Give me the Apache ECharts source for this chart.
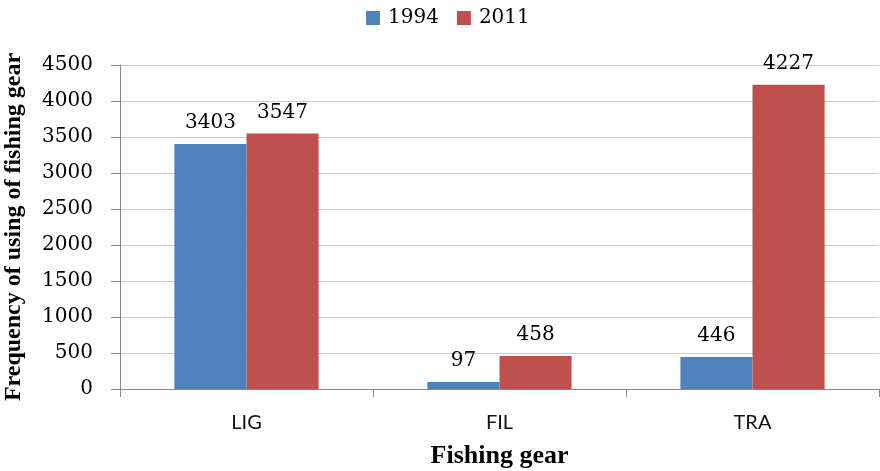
<!DOCTYPE html>
<html>
<head>
<meta charset="utf-8">
<script src="https://cdn.jsdelivr.net/npm/echarts@6/dist/echarts.min.js"></script>
<style>
  html, body { margin: 0; padding: 0; background: #fff; }
  #chart { width: 880px; height: 471px; }
</style>
</head>
<body>
<div id="chart"></div>
<script>
// Fishing gear usage counts by survey year
const categories = ['LIG', 'FIL', 'TRA'];
const values1994 = [3403, 97, 446];
const values2011 = [3547, 458, 4227];
const yTicks = [0, 500, 1000, 1500, 2000, 2500, 3000, 3500, 4000, 4500];

const numFont = '"DejaVu Serif", "Liberation Serif", serif';
const titleFont = '"Liberation Serif", "DejaVu Serif", serif';
const catFont = 'Lato, "Open Sans", sans-serif';

const chart = echarts.init(document.getElementById('chart'));

const labelStyle = {
  show: true,
  position: 'top',
  distance: 11,
  fontFamily: numFont,
  fontSize: 20,
  color: '#000'
};

chart.setOption({
  animation: false,
  backgroundColor: '#fff',
  legend: {
    top: 3,
    left: 361,
    icon: 'rect',
    itemWidth: 14,
    itemHeight: 14,
    itemGap: 18,
    textStyle: { fontFamily: numFont, fontSize: 20, color: '#000', padding: [0, 0, 0, 3] },
    data: ['1994', '2011']
  },
  grid: { left: 120, right: 1, top: 65, bottom: 82, containLabel: false, outerBoundsMode: 'none' },
  xAxis: {
    type: 'category',
    data: categories,
    name: 'Fishing gear',
    nameLocation: 'middle',
    nameGap: 54,
    nameTextStyle: { fontFamily: titleFont, fontSize: 26, fontWeight: 'bold', color: '#000' },
    axisLine: { lineStyle: { color: '#888' } },
    axisTick: { show: true, alignWithLabel: false, length: 8, lineStyle: { color: '#888' } },
    axisLabel: { fontFamily: catFont, fontSize: 20, color: '#111', margin: 24 }
  },
  yAxis: {
    type: 'value',
    min: 0,
    max: 4500,
    interval: 500,
    name: 'Frequency of using of fishing gear',
    nameLocation: 'middle',
    nameGap: 94,
    nameTextStyle: { fontFamily: titleFont, fontSize: 24, fontWeight: 'bold', color: '#000' },
    axisLine: { show: true, lineStyle: { color: '#888' } },
    axisTick: { show: true, length: 9, lineStyle: { color: '#888' } },
    axisLabel: {
      fontFamily: numFont,
      fontSize: 20,
      color: '#000',
      margin: 27,
      formatter: v => (yTicks.includes(v) ? String(v) : '')
    },
    splitLine: { show: true, lineStyle: { color: '#cbcbcb' } }
  },
  series: [
    {
      name: '1994',
      type: 'bar',
      data: values1994,
      barGap: '0%',
      barCategoryGap: '43%',
      itemStyle: { color: '#4F81BD' },
      label: labelStyle
    },
    {
      name: '2011',
      type: 'bar',
      data: values2011,
      itemStyle: { color: '#C0504D' },
      label: labelStyle
    }
  ]
});
</script>
</body>
</html>
